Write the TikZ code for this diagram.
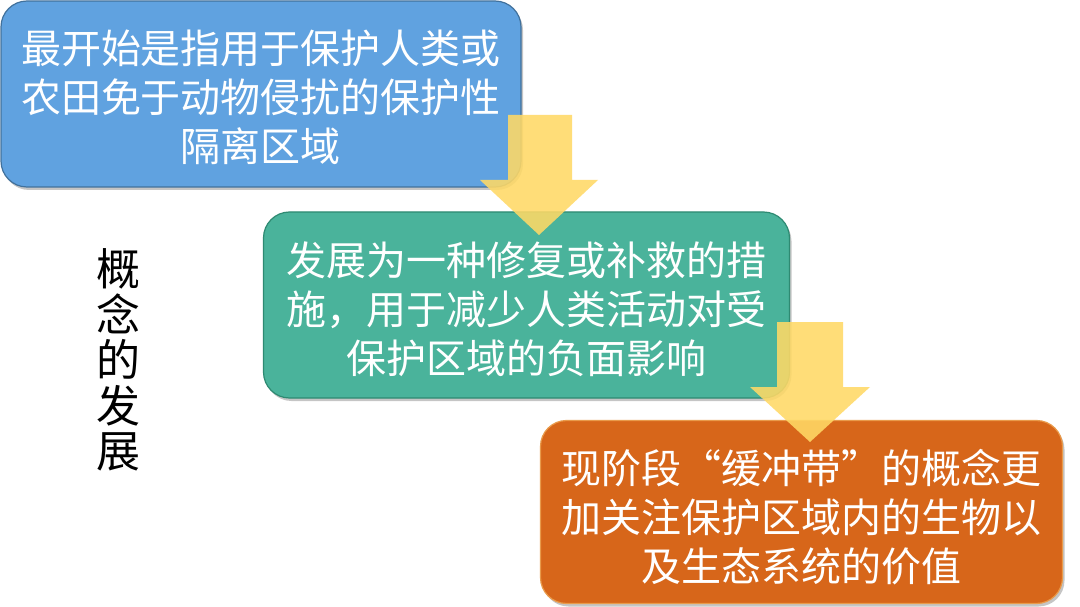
\documentclass[tikz,border=0pt]{standalone}
\usepackage{fontspec}
\newfontfamily\cjk{Noto Sans CJK SC}
\usetikzlibrary{shadows}
\definecolor{boxblue}{HTML}{60A2E0}
\definecolor{boxblueedge}{HTML}{41719C}
\definecolor{boxgreen}{HTML}{4AB39B}
\definecolor{boxgreenedge}{HTML}{2E8A72}
\definecolor{boxorange}{HTML}{D7661A}
\definecolor{boxorangeedge}{HTML}{E99A4A}
\definecolor{arrowyellow}{HTML}{FFD966}
\tikzset{
  stagebox/.style={rounded corners=26pt, line width=1.2pt, inner sep=0pt,
    drop shadow={opacity=0.45, shadow xshift=2pt, shadow yshift=-3pt}},
  stagetext/.style={inner sep=0pt, align=center, text=white,
    font=\cjk\fontsize{40}{49}\selectfont},
  flowarrow/.style={fill=arrowyellow, fill opacity=0.88},
  sidelabel/.style={align=center, text=black, font=\cjk\fontsize{44}{45.5}\selectfont}
}
\begin{document}
\begin{tikzpicture}[x=1pt,y=-1pt]
\useasboundingbox[fill=white] (0,0) rectangle (1080,607);
\node[stagebox, fill=boxblue, draw=boxblueedge, minimum width=520pt, minimum height=186pt]
  (b1) at (261,94) {};
\node[stagetext] (t1) at ([yshift=-3pt]b1.center) {最开始是指用于保护人类或\\农田免于动物侵扰的保护性\\隔离区域};
\node[stagebox, fill=boxgreen, draw=boxgreenedge, minimum width=526pt, minimum height=186pt]
  (b2) at (526.5,305) {};
\node[stagetext] (t2) at ([yshift=-4pt]b2.center) {发展为一种修复或补救的措\\施，用于减少人类活动对受\\保护区域的负面影响};
\node[stagebox, fill=boxorange, draw=boxorangeedge, minimum width=522pt, minimum height=183pt]
  (b3) at (801.5,512) {};
\node[stagetext] (t3) at ([yshift=-5pt]b3.center) {现阶段“缓冲带”的概念更\\加关注保护区域内的生物以\\及生态系统的价值};
\node[sidelabel] (lbl) at (118,360) {概\\念\\的\\发\\展};
% block arrows
\coordinate (a1tip) at (539,235);
\fill[flowarrow] (508,115) -- (572,115) -- (572,180) -- (598,180) -- (a1tip) -- (480,180) -- (508,180) -- cycle;
\coordinate (a2tip) at (810,442);
\fill[flowarrow] (777,322) -- (843,322) -- (843,387) -- (870,387) -- (a2tip) -- (750,387) -- (777,387) -- cycle;
\end{tikzpicture}
\end{document}
